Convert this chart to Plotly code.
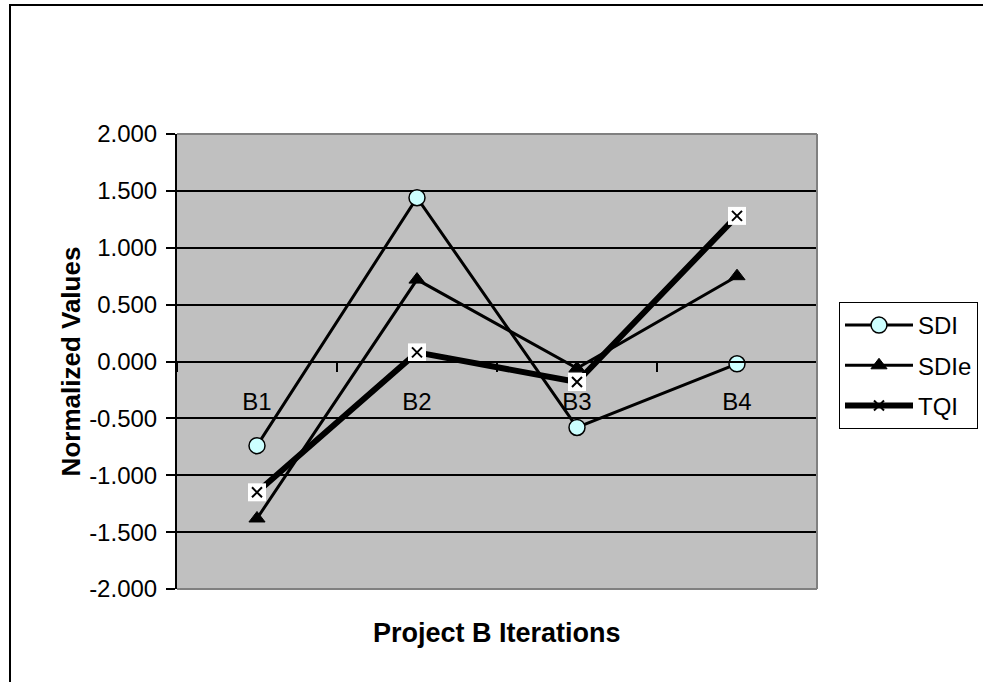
import plotly.graph_objects as go

# Iterations of project B and the three normalized indicators
iterations = ["B1", "B2", "B3", "B4"]
sdi = [-0.74, 1.44, -0.58, -0.02]
sdie = [-1.38, 0.72, -0.06, 0.75]
tqi = [-1.15, 0.08, -0.18, 1.28]

y_tickvals = [-2.0, -1.5, -1.0, -0.5, 0.0, 0.5, 1.0, 1.5, 2.0]
y_ticktext = ["-2.000", "-1.500", "-1.000", "-0.500", "0.000",
              "0.500", "1.000", "1.500", "2.000"]

FONT = "Liberation Sans, Arial, sans-serif"
W, H = 983, 682
L, R, T, B = 177, 166, 134, 93
PW, PH = W - L - R, H - T - B


def px_x(px):
    return (px - L) / PW


def px_y(py):
    return (H - B - py) / PH


fig = go.Figure()

fig.add_trace(go.Scatter(
    x=iterations, y=sdi, name="SDI", mode="lines+markers", legendgroup="a",
    line=dict(color="black", width=3),
    marker=dict(symbol="circle", size=16, color="#CCFFFF",
                line=dict(color="black", width=1.5)),
))
fig.add_trace(go.Scatter(
    x=iterations, y=sdie, name="SDIe", mode="lines+markers", legendgroup="b",
    line=dict(color="black", width=3),
    marker=dict(symbol="triangle-up", size=14, color="black",
                line=dict(color="black", width=1)),
))
# TQI: heavy line, white square markers with a black cross on top
fig.add_trace(go.Scatter(
    x=iterations, y=tqi, mode="lines", showlegend=False,
    line=dict(color="black", width=6), hoverinfo="skip",
))
fig.add_trace(go.Scatter(
    x=iterations, y=tqi, mode="markers", showlegend=False,
    marker=dict(symbol="square", size=18, color="white",
                line=dict(width=0)), hoverinfo="skip",
))
fig.add_trace(go.Scatter(
    x=iterations, y=tqi, mode="markers", showlegend=False, name="TQI",
    marker=dict(symbol="x-thin", size=10, color="black",
                line=dict(color="black", width=2)),
))
# legend entry for TQI
fig.add_trace(go.Scatter(
    x=[None], y=[None], name="TQI", mode="lines+markers", legendgroup="c",
    line=dict(color="black", width=6),
    marker=dict(symbol="x-thin", size=10, color="black",
                line=dict(color="black", width=2)),
))

shapes = [
    # outer chart frame
    dict(type="rect", xref="paper", yref="paper",
         x0=px_x(10), x1=px_x(1100), y0=px_y(800), y1=px_y(5),
         line=dict(color="black", width=2), layer="above"),
    # plot area border (top, right, bottom)
    dict(type="line", xref="paper", yref="paper", x0=0, x1=1, y0=1, y1=1,
         line=dict(color="#808080", width=2), layer="above"),
    dict(type="line", xref="paper", yref="paper", x0=1, x1=1, y0=0, y1=1,
         line=dict(color="#808080", width=2), layer="above"),
    dict(type="line", xref="paper", yref="paper", x0=0, x1=1, y0=0, y1=0,
         line=dict(color="#808080", width=2), layer="above"),
]

fig.update_layout(
    width=W, height=H,
    margin=dict(l=L, r=R, t=T, b=B, autoexpand=False),
    paper_bgcolor="white",
    plot_bgcolor="#C0C0C0",
    font=dict(family=FONT, size=24, color="black"),
    showlegend=True,
    legend=dict(
        x=px_x(839), y=px_y(302), xanchor="left", yanchor="top",
        bgcolor="white", bordercolor="black", borderwidth=1,
        font=dict(family=FONT, size=24, color="black"),
        itemwidth=68, tracegroupgap=6,
    ),
    shapes=shapes,
    annotations=[dict(
        text="<b>Project B Iterations</b>", xref="paper", yref="paper",
        x=0.5, y=px_y(633), xanchor="center", yanchor="middle",
        showarrow=False, font=dict(family=FONT, size=27, color="black"),
    )],
    xaxis=dict(
        type="category", categoryorder="array", categoryarray=iterations,
        range=[-0.5, 3.5], anchor="free", position=0.5,
        showline=True, linecolor="black", linewidth=2,
        ticks="outside", ticklen=9, tickwidth=1.5, tickcolor="black",
        tickson="boundaries", showgrid=False, zeroline=False,
        ticklabelstandoff=19,
        tickfont=dict(family=FONT, size=24, color="black"),
    ),
    yaxis=dict(
        range=[-2, 2], tickvals=y_tickvals, ticktext=y_ticktext,
        showline=True, linecolor="black", linewidth=2,
        ticks="outside", ticklen=9, tickwidth=1.5, tickcolor="black",
        showgrid=True, gridcolor="black", gridwidth=1.5, zeroline=False,
        ticklabelstandoff=4,
        tickfont=dict(family=FONT, size=24, color="black"),
        title=dict(text="<b>Normalized Values</b>", standoff=1,
                   font=dict(family=FONT, size=26, color="black")),
    ),
)

fig.write_html("out.html")
